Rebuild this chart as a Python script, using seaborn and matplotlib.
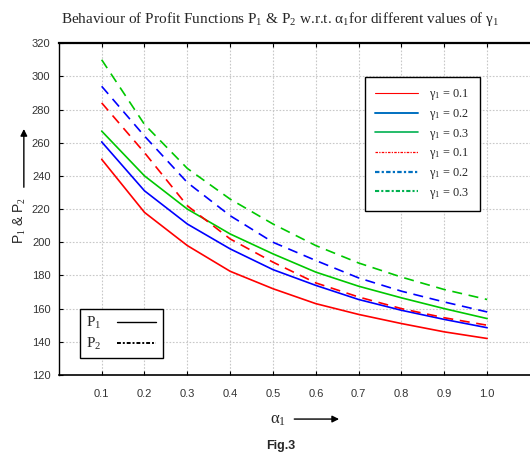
import numpy as np
import pandas as pd
import matplotlib
matplotlib.use('Agg')
import matplotlib.pyplot as plt
from matplotlib.lines import Line2D
from matplotlib.patches import FancyArrowPatch
import seaborn as sns

alpha = [0.1, 0.2, 0.3, 0.4, 0.5, 0.6, 0.7, 0.8, 0.9, 1.0]
p1_g01 = [250, 218, 198, 182.5, 172, 163, 156.5, 151, 146, 142]
p1_g02 = [260.5, 231, 211, 196, 183.5, 174, 165.5, 159, 153.5, 148.5]
p1_g03 = [267, 240, 220, 205, 193, 182, 173.5, 166.5, 160, 154]
p2_g01 = [284, 254, 222, 202, 188, 175.5, 167, 160, 154.5, 150]
p2_g02 = [294, 264, 236, 216, 200, 189, 178.5, 170.5, 164, 158]
p2_g03 = [310, 271, 244.5, 226, 211, 198, 187.5, 179, 171.5, 165.5]
gamma_labels = ['0.1', '0.2', '0.3']
yticks = [120, 140, 160, 180, 200, 220, 240, 260, 280, 300, 320]

sns.set_style('whitegrid')
plt.rcParams['font.family'] = ['Liberation Sans', 'DejaVu Sans']
plt.rcParams['mathtext.fontset'] = 'custom'
plt.rcParams['mathtext.rm'] = 'Liberation Serif'
plt.rcParams['mathtext.it'] = 'Liberation Serif'

fig = plt.figure(figsize=(5.3, 4.59), dpi=100)
ax = fig.add_axes([0.111, 0.183, 0.889, 0.723])

line_colors = ['#ff0000', '#0000ff', '#00c800']
dash = (0, (6, 4))
for ys, c in zip([p1_g01, p1_g02, p1_g03], line_colors):
    sns.lineplot(x=alpha, y=ys, color=c, linewidth=1.2, ax=ax)
for ys, c in zip([p2_g01, p2_g02, p2_g03], line_colors):
    sns.lineplot(x=alpha, y=ys, color=c, linewidth=1.2, linestyle=dash, ax=ax)

ax.set_xlim(0, 1.1)
ax.set_ylim(120, 320)
ax.set_xticks(alpha)
ax.set_xticklabels([f'{a:.1f}' for a in alpha])
ax.set_yticks(yticks)
ax.grid(True, color='#c8c8c8', linestyle=(0, (1.5, 1.5)), linewidth=0.8)
ax.tick_params(axis='both', labelsize=8, labelcolor='#333333', length=3,
               direction='in', color='black')
ax.tick_params(axis='x', top=True, bottom=True, pad=10)
ax.tick_params(axis='y', left=True, pad=6)
for side in ['left', 'bottom', 'top']:
    ax.spines[side].set_visible(True)
    ax.spines[side].set_color('black')
ax.spines['top'].set_linewidth(1.6)
ax.spines['bottom'].set_linewidth(1.2)
ax.spines['left'].set_linewidth(1.0)
ax.spines['right'].set_visible(False)

# gamma legend
leg_colors = ['#ff0000', '#0070c0', '#00b050']
handles = [Line2D([], [], color=c, linewidth=w) for c, w in zip(leg_colors, [0.8, 1.4, 1.2])]
handles += [Line2D([], [], color=c, linewidth=w, linestyle=(0, (2, 1, 1, 1)))
            for c, w in zip(leg_colors, [0.9, 1.6, 1.5])]
labels = ['\u03b3$_1$ = ' + g for g in gamma_labels] * 2
leg1 = ax.legend(handles, labels, loc='upper left', bbox_to_anchor=(0.65, 0.898),
                 borderaxespad=0, frameon=True, fancybox=False, edgecolor='black',
                 framealpha=1, prop={'family': 'Liberation Serif', 'size': 8.8},
                 handlelength=3.5, labelspacing=0.38, borderpad=0.85,
                 handletextpad=0.9)
leg1.get_frame().set_linewidth(1.0)
ax.add_artist(leg1)

# P legend
h2 = [Line2D([], [], color='black', linewidth=1.0),
      Line2D([], [], color='black', linewidth=1.4, linestyle=(0, (2, 1, 1, 1)))]
leg2 = ax.legend(h2, ['P$_1$', 'P$_2$'], loc='lower left',
                 bbox_to_anchor=(0.045, 0.051), borderaxespad=0, frameon=True,
                 fancybox=False, edgecolor='black', framealpha=1,
                 prop={'family': 'Liberation Serif', 'size': 11}, markerfirst=False,
                 handlelength=2.6, labelspacing=0.3, borderpad=0.4, handletextpad=1.0)
leg2.get_frame().set_linewidth(1.0)

fig.text(0.528, 0.958,
         'Behaviour of Profit Functions P$_1$ & P$_2$ w.r.t. \u03b1$_1$for different values of \u03b3$_1$',
         ha='center', va='center', fontsize=11, family='Liberation Serif')

# y label with arrow
fig.text(0.038, 0.52, 'P$_1$ & P$_2$', rotation=90, ha='center',
         va='center', fontsize=10, family='Liberation Sans')
fig.add_artist(FancyArrowPatch(
    (0.045, 0.586), (0.045, 0.725), transform=fig.transFigure,
    arrowstyle='-|>', mutation_scale=10, color='black', linewidth=1.0))

# x label with arrow
fig.text(0.525, 0.085, '\u03b1$_1$', ha='center', va='center', fontsize=12,
         family='Liberation Serif')
fig.add_artist(FancyArrowPatch(
    (0.55, 0.087), (0.645, 0.087), transform=fig.transFigure,
    arrowstyle='-|>', mutation_scale=10, color='black', linewidth=1.0))

fig.text(0.53, 0.028, 'Fig.3', ha='center', va='center', fontsize=9,
         fontweight='bold', family='Liberation Sans')

fig.savefig('out.png', dpi=100)
